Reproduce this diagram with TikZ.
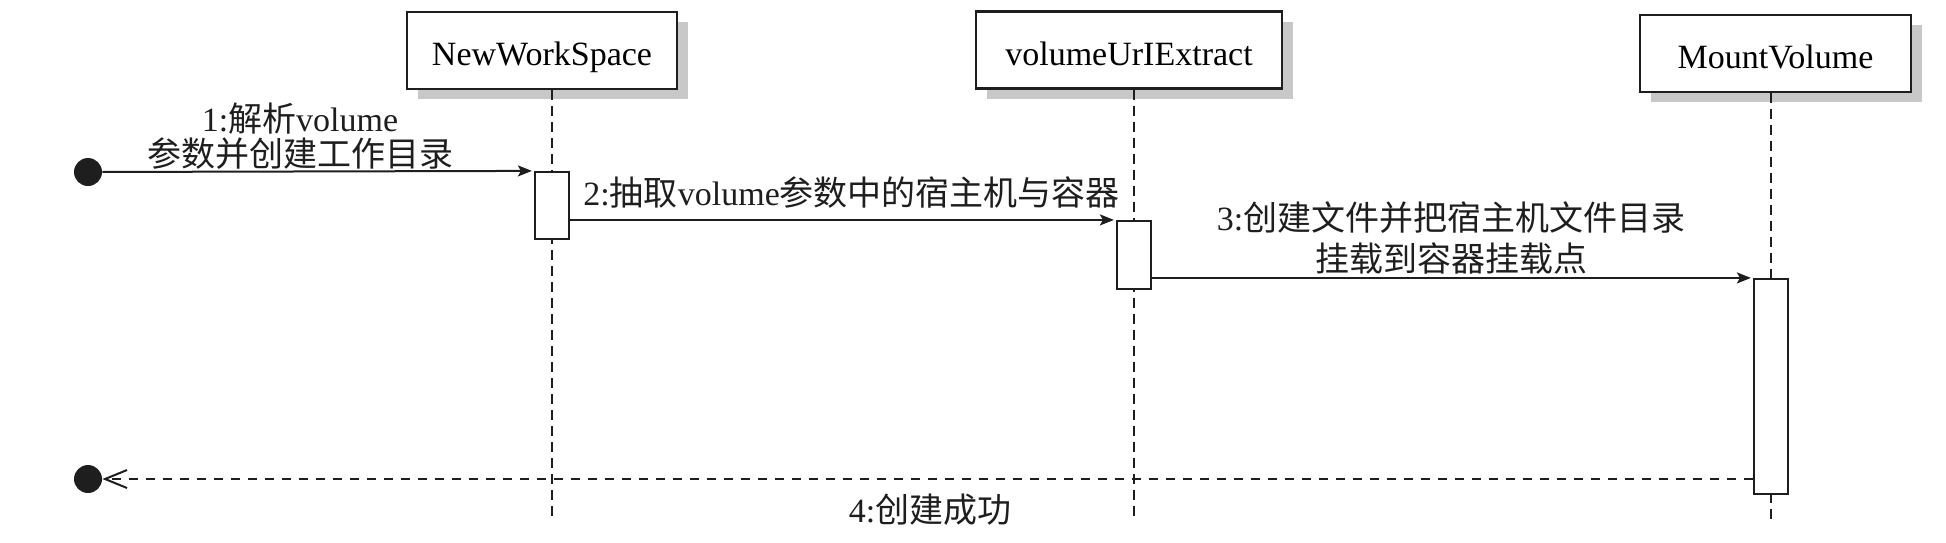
\documentclass[tikz,border=0pt]{standalone}
\usepackage{fontspec}
\setmainfont{Liberation Serif}
\newfontfamily\cjk{Noto Sans CJK SC}
\usetikzlibrary{arrows.meta,shadows}
\definecolor{shade}{RGB}{200,200,200}
\definecolor{ink}{RGB}{30,30,30}
\tikzset{
  hdr/.style={draw=ink, line width=1.1pt, fill=white, rectangle, inner sep=0pt,
    minimum height=38.5pt, text height=15pt, text depth=0pt, font=\fontsize{17pt}{20pt}\selectfont,
    drop shadow={shadow xshift=5.5pt, shadow yshift=-5pt, fill=shade, opacity=1}},
  life/.style={draw=ink, line width=1pt, dash pattern=on 5pt off 3pt},
  actbox/.style={draw=ink, line width=1.1pt, fill=white, rectangle, inner sep=0pt, minimum width=17pt},
  msg/.style={draw=ink, line width=1pt, -{Stealth[length=7pt, width=5.5pt, inset=1.5pt]}, shorten >=1pt},
  ret/.style={draw=ink, line width=1pt, dash pattern=on 4.5pt off 4pt, -{Straight Barb[length=11pt, width=9pt, line width=1pt]}},
  dotnode/.style={circle, fill=ink, draw=none, minimum size=14pt, inner sep=0pt},
  lbl/.style={inner sep=0pt, font=\fontsize{17pt}{20pt}\selectfont, text=ink}
}
\begin{document}
\begin{tikzpicture}[x=0.5pt, y=-0.5pt]
\useasboundingbox (0,0) rectangle (1946,542);
% headers
\node[hdr, minimum width=135pt] (nws) at (542,50.5) {NewWorkSpace};
\node[hdr, minimum width=153pt] (vue) at (1129,50) {volumeUrIExtract};
\node[hdr, minimum width=135.5pt] (mv) at (1775.5,53.5) {MountVolume};
% lifeline ends
\coordinate (l1) at (552,520);
\coordinate (l2) at (1134,520);
\coordinate (l3) at (1771,522);
\draw[life] (nws.south -| l1) -- (l1);
\draw[life] (vue.south -| l2) -- (l2);
\draw[life] (mv.south -| l3) -- (l3);
% activations
\node[actbox, minimum height=33.5pt] (a1) at (552,205.5) {};
\node[actbox, minimum height=34pt] (a2) at (1134,255) {};
\node[actbox, minimum height=107.5pt] (a3) at (1771,386.5) {};
% start/end dots
\node[dotnode] (start) at (88,172) {};
\node[dotnode] (finish) at (88,479) {};
% messages
\draw[msg] (start) -- (a1.north west);
\draw[msg] (a1.east |- a2.north) -- (a2.north west);
\draw[msg] (a2.east |- a3.north) -- (a3.north west);
\draw[ret] (a3.west |- finish) -- (finish);
% labels
\node[lbl, align=center, font=\fontsize{17pt}{17.5pt}\selectfont] (t1) at (300,136) {1:{\cjk 解析}volume\\{\cjk 参数并创建工作目录}};
\node[lbl, anchor=west] (t2) at (583,193) {2:{\cjk 抽取}volume{\cjk 参数中的宿主机与容器}};
\node[lbl, align=center, font=\fontsize{17pt}{20.5pt}\selectfont] (t3) at (1451,238) {3:{\cjk 创建文件并把宿主机文件目录}\\{\cjk 挂载到容器挂载点}};
\node[lbl] (t4) at (930,510) {4:{\cjk 创建成功}};
\end{tikzpicture}
\end{document}
